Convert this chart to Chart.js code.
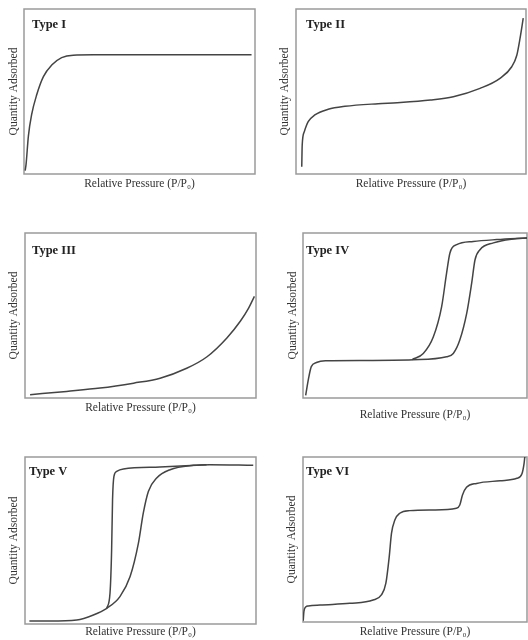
<!DOCTYPE html>
<html>
<head>
<meta charset="utf-8">
<script src="https://cdn.jsdelivr.net/npm/chart.js@4.4.0/dist/chart.umd.min.js"></script>
<style>
  body { margin: 0; background: #fff; }
  #wrap { position: relative; width: 528px; height: 640px; }
  canvas { position: absolute; }
</style>
</head>
<body>
<div id="wrap"></div>
<script>
// isotherm curves (x = P/P0, y = relative amount, both 0..1)
var typeIx = [0.005, 0.009, 0.019, 0.033, 0.055, 0.084, 0.12, 0.163, 0.213, 0.3, 0.5, 0.75, 0.985];
var typeIy = [0.02, 0.06, 0.23, 0.36, 0.48, 0.59, 0.66, 0.705, 0.72, 0.722, 0.722, 0.722, 0.722];

var typeIIx = [0.025, 0.027, 0.036, 0.053, 0.082, 0.14, 0.213, 0.357, 0.44, 0.585, 0.684, 0.8, 0.887, 0.938, 0.96, 0.974, 0.988];
var typeIIy = [0.044, 0.176, 0.256, 0.317, 0.358, 0.392, 0.41, 0.426, 0.432, 0.448, 0.468, 0.519, 0.58, 0.65, 0.72, 0.822, 0.944];

var typeIIIx = [0.022, 0.18, 0.325, 0.47, 0.585, 0.70, 0.788, 0.874, 0.932, 0.968, 0.993];
var typeIIIy = [0.02, 0.04, 0.06, 0.09, 0.12, 0.18, 0.25, 0.364, 0.465, 0.545, 0.616];

var typeIVadsX = [0.012, 0.025, 0.037, 0.06, 0.1, 0.272, 0.492, 0.641, 0.671, 0.70, 0.731, 0.753, 0.768, 0.79, 0.85, 0.939, 1.0];
var typeIVadsY = [0.016, 0.12, 0.19, 0.215, 0.226, 0.228, 0.232, 0.25, 0.27, 0.351, 0.514, 0.696, 0.838, 0.899, 0.94, 0.964, 0.97];
var typeIVdesX = [0.487, 0.537, 0.582, 0.619, 0.641, 0.656, 0.686, 0.76, 0.865, 1.0];
var typeIVdesY = [0.233, 0.27, 0.371, 0.554, 0.757, 0.879, 0.929, 0.949, 0.96, 0.97];

var typeVadsX = [0.019, 0.108, 0.224, 0.296, 0.354, 0.411, 0.455, 0.491, 0.512, 0.534, 0.57, 0.628, 0.729, 0.8, 0.988];
var typeVadsY = [0.018, 0.018, 0.024, 0.054, 0.094, 0.164, 0.284, 0.484, 0.664, 0.794, 0.874, 0.924, 0.95, 0.954, 0.95];
var typeVdesX = [0.354, 0.368, 0.375, 0.379, 0.385, 0.397, 0.426, 0.584, 0.786];
var typeVdesY = [0.094, 0.184, 0.444, 0.744, 0.884, 0.914, 0.928, 0.94, 0.954];

var typeVIx = [0.001, 0.004, 0.013, 0.024, 0.076, 0.209, 0.313, 0.35, 0.37, 0.385, 0.395, 0.41, 0.432, 0.477, 0.581, 0.685, 0.7, 0.712, 0.73, 0.775, 0.88, 0.955, 0.977, 0.987, 0.99];
var typeVIy = [0.008, 0.062, 0.092, 0.097, 0.103, 0.113, 0.133, 0.164, 0.235, 0.396, 0.537, 0.618, 0.659, 0.675, 0.679, 0.689, 0.709, 0.77, 0.816, 0.84, 0.856, 0.871, 0.897, 0.962, 1.0];

var xLabel = 'Relative Pressure (P/P\u2080)';
var yLabel = 'Quantity Adsorbed';

// page layout: canvas rect, plot box [left, top, right, bottom], title positions
var panels = [
  {label: 'Type I',   cx: 0,   cy: 0,   cw: 264, ch: 200, box: [24, 9, 255, 174],   yT: 14,  xT: 184, lab: [8, 19],  curves: [[typeIx, typeIy]]},
  {label: 'Type II',  cx: 264, cy: 0,   cw: 264, ch: 200, box: [296, 9, 526, 174],  yT: 285, xT: 184, lab: [10, 19], curves: [[typeIIx, typeIIy]]},
  {label: 'Type III', cx: 0,   cy: 215, cw: 264, ch: 210, box: [25, 233, 256, 398], yT: 14,  xT: 408, lab: [7, 21],  curves: [[typeIIIx, typeIIIy]]},
  {label: 'Type IV',  cx: 264, cy: 215, cw: 264, ch: 210, box: [303, 233, 527, 398], yT: 293, xT: 415, lab: [3, 21], curves: [[typeIVadsX, typeIVadsY], [typeIVdesX, typeIVdesY]]},
  {label: 'Type V',   cx: 0,   cy: 425, cw: 264, ch: 215, box: [25, 457, 256, 624], yT: 14,  xT: 632, lab: [4, 18],  curves: [[typeVadsX, typeVadsY], [typeVdesX, typeVdesY]]},
  {label: 'Type VI',  cx: 264, cy: 425, cw: 264, ch: 215, box: [303, 457, 527, 622], yT: 292, xT: 632, lab: [3, 18], curves: [[typeVIx, typeVIy]]}
];

var FONT = '"Liberation Serif", "DejaVu Serif", serif';
var FS = 11.5;
var half = FS * 1.2 / 2;

// frame round the plot area + the "Type" label inside it
var boxPlugin = {
  id: 'box',
  beforeDatasetsDraw: function (chart) {
    var a = chart.chartArea, ctx = chart.ctx;
    ctx.save();
    ctx.strokeStyle = '#9a9a9a';
    ctx.lineWidth = 1.5;
    ctx.strokeRect(a.left, a.top, a.right - a.left, a.bottom - a.top);
    ctx.restore();
  },
  afterDraw: function (chart, args, opts) {
    var a = chart.chartArea, ctx = chart.ctx;
    ctx.save();
    ctx.font = 'bold 12.5px ' + FONT;
    ctx.fillStyle = '#222';
    ctx.textBaseline = 'alphabetic';
    ctx.fillText(opts.label, a.left + opts.dx, a.top + opts.dy);
    ctx.restore();
  }
};

var wrap = document.getElementById('wrap');

panels.forEach(function (p) {
  var cv = document.createElement('canvas');
  cv.width = p.cw; cv.height = p.ch;
  cv.style.left = p.cx + 'px'; cv.style.top = p.cy + 'px';
  cv.style.width = p.cw + 'px'; cv.style.height = p.ch + 'px';
  wrap.appendChild(cv);

  var yW = p.box[0] - p.cx;
  var xH = p.cy + p.ch - p.box[3];

  var datasets = p.curves.map(function (c) {
    return {
      data: c[0].map(function (v, i) { return {x: v, y: c[1][i]}; }),
      borderColor: '#444',
      borderWidth: 1.5,
      pointRadius: 0,
      cubicInterpolationMode: 'monotone',
      fill: false
    };
  });

  new Chart(cv, {
    type: 'line',
    data: {datasets: datasets},
    options: {
      responsive: false,
      animation: false,
      events: [],
      layout: {padding: {left: 0, top: p.box[1] - p.cy, right: p.cx + p.cw - p.box[2], bottom: 0}},
      scales: {
        x: {
          type: 'linear', min: 0, max: 1,
          grid: {display: false}, border: {display: false},
          ticks: {display: false},
          title: {display: true, text: xLabel, color: '#333',
                  font: {family: FONT, size: FS, lineHeight: 1.2},
                  padding: {top: 0, bottom: p.cy + p.ch - p.xT - half}},
          afterFit: function (s) { s.height = xH; }
        },
        y: {
          type: 'linear', min: 0, max: 1,
          grid: {display: false}, border: {display: false},
          ticks: {display: false},
          title: {display: true, text: yLabel, color: '#333',
                  font: {family: FONT, size: FS, lineHeight: 1.2},
                  padding: {top: p.yT - p.cx - half, bottom: 0}},
          afterFit: function (s) { s.width = yW; }
        }
      },
      plugins: {
        legend: {display: false},
        tooltip: {enabled: false},
        box: {label: p.label, dx: p.lab[0], dy: p.lab[1]}
      }
    },
    plugins: [boxPlugin]
  });
});
</script>
</body>
</html>
